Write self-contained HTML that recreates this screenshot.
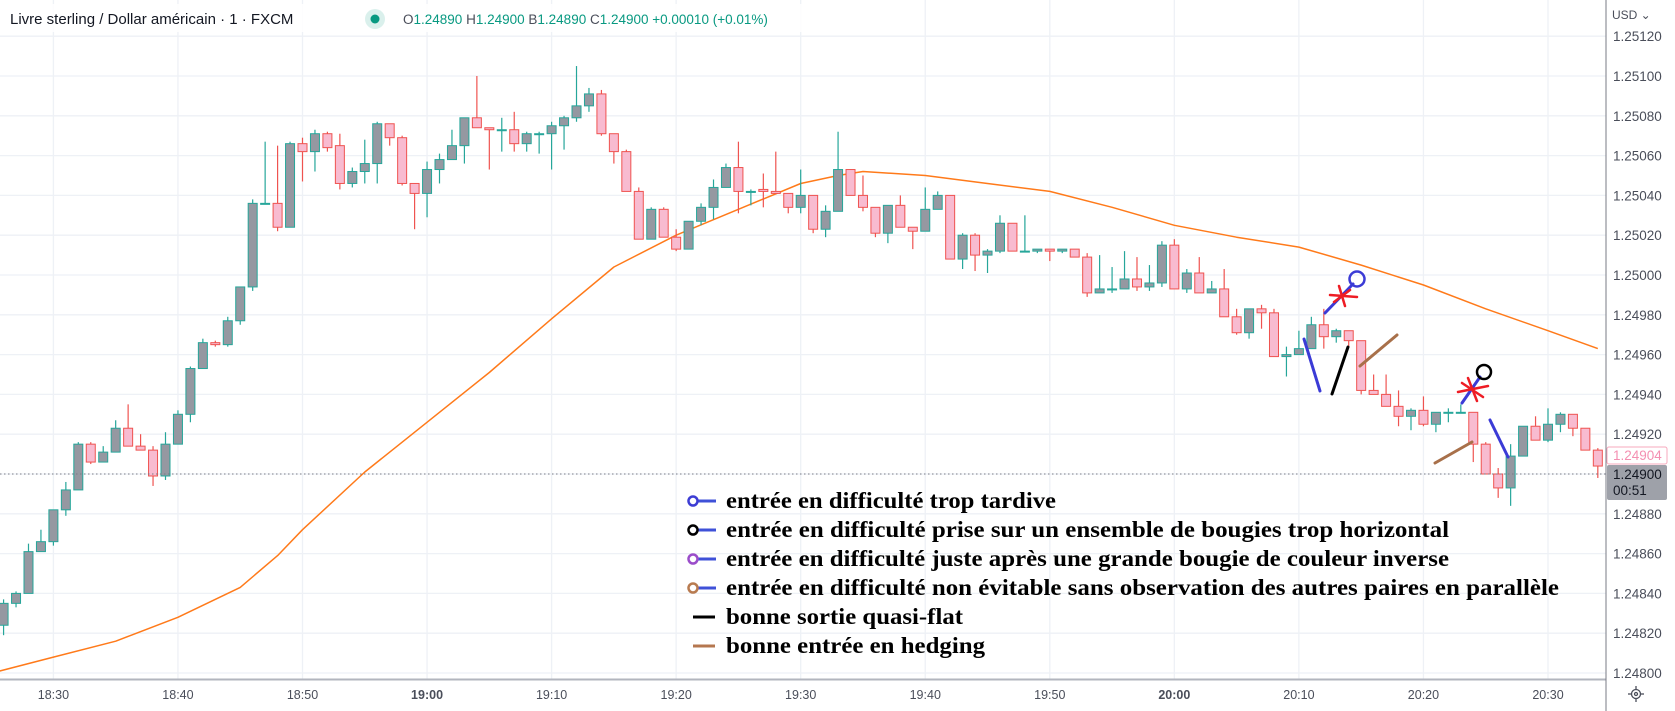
<!DOCTYPE html>
<html><head><meta charset="utf-8"><style>
html,body{margin:0;padding:0;background:#fff;}
svg{display:block;}
</style></head><body>
<svg id="chart" width="1675" height="711" xmlns="http://www.w3.org/2000/svg" font-family="Liberation Sans, sans-serif">
<rect x="0" y="0" width="1675" height="711" fill="#fff"/>
<g id="grid"></g>
<g id="ma"></g>
<g id="candles"></g>
<line x1="0" y1="474" x2="1606" y2="474" stroke="#787b86" stroke-width="1" stroke-dasharray="1.5,2.5"/>
<g stroke-linecap="round" fill="none">
 <line x1="1304" y1="339" x2="1320" y2="391" stroke="#3b3bd6" stroke-width="3"/>
 <line x1="1332" y1="394" x2="1348" y2="347" stroke="#000" stroke-width="3"/>
 <line x1="1325" y1="313" x2="1353" y2="284" stroke="#3b3bd6" stroke-width="3"/>
 <circle cx="1357" cy="279" r="7.5" stroke="#3b3bd6" stroke-width="2.5"/>
 <g stroke="#ee1c24" stroke-width="2.5">
  <line x1="1330" y1="295" x2="1357" y2="297"/><line x1="1339" y1="286" x2="1345" y2="306"/><line x1="1334" y1="302" x2="1350" y2="290"/>
 </g>
 <line x1="1360" y1="366" x2="1397" y2="335" stroke="#a8704a" stroke-width="3"/>
 <line x1="1462" y1="403" x2="1480" y2="377" stroke="#3b3bd6" stroke-width="3"/>
 <circle cx="1484" cy="372" r="7" stroke="#000" stroke-width="2.5"/>
 <g stroke="#ee1c24" stroke-width="2.5">
  <line x1="1458" y1="392" x2="1488" y2="386"/><line x1="1468" y1="378" x2="1477" y2="401"/><line x1="1462" y1="383" x2="1483" y2="397"/>
 </g>
 <line x1="1435" y1="463" x2="1472" y2="442" stroke="#a8704a" stroke-width="3"/>
 <line x1="1490" y1="420" x2="1508" y2="457" stroke="#3b3bd6" stroke-width="3"/>
</g>
<g font-family="Liberation Serif, serif" font-weight="bold" font-size="23" fill="#000">
 <g>
  <line x1="697" y1="501" x2="716" y2="501" stroke="#3f51d8" stroke-width="3"/><circle cx="693" cy="501" r="4.5" fill="#fff" stroke="#3d3dd4" stroke-width="2.5"/>
  <text x="726" y="508" textLength="330" lengthAdjust="spacingAndGlyphs">entrée en difficulté trop tardive</text></g>
 <g>
  <line x1="697" y1="530" x2="716" y2="530" stroke="#3f51d8" stroke-width="3"/><circle cx="693" cy="530" r="4.5" fill="#fff" stroke="#000" stroke-width="2.5"/>
  <text x="726" y="537" textLength="723" lengthAdjust="spacingAndGlyphs">entrée en difficulté prise sur un ensemble de bougies trop horizontal</text></g>
 <g>
  <line x1="697" y1="559" x2="716" y2="559" stroke="#3f51d8" stroke-width="3"/><circle cx="693" cy="559" r="4.5" fill="#fff" stroke="#9b4dca" stroke-width="2.5"/>
  <text x="726" y="566" textLength="723" lengthAdjust="spacingAndGlyphs">entrée en difficulté juste après une grande bougie de couleur inverse</text></g>
 <g>
  <line x1="697" y1="588" x2="716" y2="588" stroke="#3f51d8" stroke-width="3"/><circle cx="693" cy="588" r="4.5" fill="#fff" stroke="#b87b50" stroke-width="2.5"/>
  <text x="726" y="595" textLength="833" lengthAdjust="spacingAndGlyphs">entrée en difficulté non évitable sans observation des autres paires en parallèle</text></g>
 <g>
  <line x1="693" y1="617" x2="715" y2="617" stroke="#000" stroke-width="3"/>
  <text x="726" y="624" textLength="237" lengthAdjust="spacingAndGlyphs">bonne sortie quasi-flat</text></g>
 <g>
  <line x1="693" y1="646" x2="715" y2="646" stroke="#b5774f" stroke-width="3"/>
  <text x="726" y="653" textLength="259" lengthAdjust="spacingAndGlyphs">bonne entrée en hedging</text></g>
</g>
<rect x="1607" y="0" width="68" height="711" fill="#fff"/>
<rect x="0" y="680" width="1606" height="31" fill="#fff"/>
<line x1="0" y1="679.5" x2="1606" y2="679.5" stroke="#b2b5be" stroke-width="2"/>
<line x1="1606" y1="0" x2="1606" y2="711" stroke="#787b86" stroke-width="1"/>
<g id="xaxis" font-size="12.5" fill="#4a4e5a" text-anchor="middle"></g>
<g id="yaxis" font-size="13.5" fill="#4a4e5a"></g>
<text x="1612" y="19" font-size="12" fill="#4a4e5a">USD ⌄</text>
<g>
 <rect x="1607" y="447" width="60" height="17" fill="#fff" stroke="#f7a8bd" stroke-width="1" rx="2"/>
 <text x="1613" y="460" font-size="13.5" fill="#f48fb1">1.24904</text></g>
<g>
 <rect x="1607" y="465" width="60" height="35" fill="#9ea1a9" rx="2"/>
 <text x="1613" y="479" font-size="13.5" fill="#131722">1.24900</text>
 <text x="1613" y="495" font-size="13.5" fill="#131722">00:51</text></g>
<g stroke="#4a4e5a" fill="none" stroke-width="1.3">
 <circle cx="1636" cy="694" r="4.5"/><circle cx="1636" cy="694" r="1.5"/>
 <line x1="1636" y1="686" x2="1636" y2="689"/><line x1="1636" y1="699" x2="1636" y2="702"/>
 <line x1="1628" y1="694" x2="1631" y2="694"/><line x1="1641" y1="694" x2="1644" y2="694"/></g>
<g>
 <rect x="0" y="4" width="840" height="28" fill="#fff" opacity="0.85"/>
 <text x="10" y="24" font-size="15" fill="#131722">Livre sterling / Dollar américain · 1 · FXCM</text>
 <circle cx="375" cy="19" r="10" fill="#089981" opacity="0.15"/>
 <circle cx="375" cy="19" r="4.5" fill="#089981"/>
 <text x="403" y="24" font-size="13.5" fill="#089981"><tspan fill="#4a4e5a">O</tspan>1.24890 <tspan fill="#4a4e5a">H</tspan>1.24900 <tspan fill="#4a4e5a">B</tspan>1.24890 <tspan fill="#4a4e5a">C</tspan>1.24900 +0.00010 (+0.01%)</text>
</g>
</svg>
<script>
const firstMinute = 26;
const openP = [1.24824,1.24835,1.24840,1.24861,1.24866,1.24882,1.24892,1.24915,1.24906,1.24911,1.24923,1.24914,1.24912,1.24899,1.24915,1.24930,1.24953,1.24966,1.24965,1.24977,1.24994,1.25036,1.25036,1.25024,1.25066,1.25062,1.25071,1.25065,1.25046,1.25052,1.25056,1.25076,1.25069,1.25046,1.25041,1.25053,1.25058,1.25065,1.25079,1.25074,1.25073,1.25073,1.25066,1.25071,1.25071,1.25075,1.25079,1.25085,1.25091,1.25071,1.25062,1.25042,1.25018,1.25033,1.25019,1.25013,1.25027,1.25034,1.25044,1.25054,1.25042,1.25043,1.25042,1.25041,1.25034,1.25040,1.25023,1.25032,1.25053,1.25040,1.25034,1.25021,1.25035,1.25024,1.25022,1.25033,1.25040,1.25008,1.25020,1.25010,1.25012,1.25026,1.25012,1.25012,1.25013,1.25012,1.25013,1.25009,1.24991,1.24993,1.24993,1.24998,1.24994,1.24996,1.25015,1.24993,1.25001,1.24991,1.24993,1.24979,1.24971,1.24983,1.24981,1.24959,1.24960,1.24963,1.24975,1.24969,1.24972,1.24967,1.24942,1.24940,1.24934,1.24929,1.24932,1.24925,1.24931,1.24931,1.24931,1.24915,1.24900,1.24893,1.24909,1.24924,1.24917,1.24925,1.24930,1.24923,1.24912];
const highP = [1.24837,1.24841,1.24865,1.24872,1.24882,1.24896,1.24916,1.24916,1.24914,1.24927,1.24935,1.24920,1.24914,1.24921,1.24932,1.24954,1.24968,1.24967,1.24979,1.24994,1.25038,1.25067,1.25065,1.25067,1.25069,1.25073,1.25072,1.25071,1.25054,1.25068,1.25077,1.25076,1.25070,1.25046,1.25057,1.25061,1.25073,1.25079,1.25100,1.25074,1.25079,1.25082,1.25072,1.25072,1.25077,1.25080,1.25105,1.25094,1.25093,1.25071,1.25063,1.25044,1.25034,1.25034,1.25023,1.25027,1.25036,1.25048,1.25056,1.25067,1.25043,1.25051,1.25062,1.25041,1.25053,1.25040,1.25035,1.25072,1.25053,1.25050,1.25034,1.25035,1.25040,1.25024,1.25044,1.25042,1.25040,1.25021,1.25021,1.25013,1.25030,1.25026,1.25030,1.25013,1.25013,1.25013,1.25013,1.25011,1.25010,1.25004,1.25012,1.25009,1.25005,1.25017,1.25018,1.25003,1.25009,1.24997,1.25003,1.24983,1.24983,1.24985,1.24983,1.24964,1.24972,1.24979,1.24983,1.24973,1.24972,1.24967,1.24950,1.24950,1.24942,1.24933,1.24939,1.24931,1.24933,1.24935,1.24931,1.24916,1.24903,1.24915,1.24924,1.24929,1.24933,1.24931,1.24930,1.24923,1.24913];
const lowP = [1.24819,1.24833,1.24840,1.24861,1.24864,1.24879,1.24892,1.24905,1.24906,1.24911,1.24914,1.24912,1.24894,1.24897,1.24915,1.24926,1.24953,1.24964,1.24964,1.24975,1.24992,1.25036,1.25022,1.25024,1.25047,1.25052,1.25062,1.25043,1.25044,1.25046,1.25046,1.25065,1.25045,1.25023,1.25029,1.25046,1.25058,1.25056,1.25074,1.25053,1.25062,1.25062,1.25062,1.25061,1.25053,1.25063,1.25077,1.25082,1.25070,1.25056,1.25042,1.25018,1.25018,1.25019,1.25012,1.25013,1.25025,1.25028,1.25044,1.25031,1.25035,1.25034,1.25041,1.25031,1.25031,1.25021,1.25019,1.25032,1.25040,1.25032,1.25019,1.25016,1.25024,1.25013,1.25022,1.25033,1.25008,1.25003,1.25002,1.25001,1.25011,1.25012,1.25012,1.25011,1.25007,1.25011,1.25009,1.24989,1.24991,1.24991,1.24993,1.24992,1.24992,1.24994,1.24993,1.24991,1.24991,1.24991,1.24979,1.24970,1.24968,1.24973,1.24959,1.24949,1.24960,1.24963,1.24963,1.24966,1.24964,1.24940,1.24940,1.24934,1.24924,1.24922,1.24924,1.24921,1.24926,1.24931,1.24906,1.24900,1.24888,1.24884,1.24909,1.24917,1.24916,1.24921,1.24919,1.24912,1.24898];
const closeP = [1.24835,1.24840,1.24861,1.24866,1.24882,1.24892,1.24915,1.24906,1.24911,1.24923,1.24914,1.24912,1.24899,1.24915,1.24930,1.24953,1.24966,1.24965,1.24977,1.24994,1.25036,1.25036,1.25024,1.25066,1.25062,1.25071,1.25064,1.25046,1.25052,1.25056,1.25076,1.25069,1.25046,1.25041,1.25053,1.25058,1.25065,1.25079,1.25074,1.25073,1.25073,1.25066,1.25071,1.25071,1.25075,1.25079,1.25085,1.25091,1.25071,1.25062,1.25042,1.25018,1.25033,1.25019,1.25013,1.25027,1.25034,1.25044,1.25054,1.25042,1.25042,1.25042,1.25041,1.25034,1.25040,1.25023,1.25032,1.25053,1.25040,1.25034,1.25021,1.25035,1.25024,1.25022,1.25033,1.25040,1.25008,1.25020,1.25010,1.25012,1.25026,1.25012,1.25012,1.25013,1.25012,1.25013,1.25009,1.24991,1.24993,1.24993,1.24998,1.24994,1.24996,1.25015,1.24993,1.25001,1.24991,1.24993,1.24979,1.24971,1.24983,1.24981,1.24959,1.24960,1.24963,1.24975,1.24969,1.24972,1.24967,1.24942,1.24940,1.24934,1.24929,1.24932,1.24925,1.24931,1.24931,1.24931,1.24915,1.24900,1.24893,1.24909,1.24924,1.24917,1.24925,1.24930,1.24923,1.24912,1.24904];
const maMinutes = [25.7,30,35,40,45,48,50,55,60,65,70,75,80,85,90,93,95,100,105,110,115,120,125,130,135,140,145,150,154];
const maValues = [1.24801,1.24808,1.24816,1.24828,1.24843,1.24859,1.24872,1.24901,1.24926,1.24951,1.24978,1.25004,1.25020,1.25033,1.25046,1.25050,1.25052,1.25050,1.25046,1.25042,1.25034,1.25025,1.25019,1.25014,1.25005,1.24995,1.24983,1.24972,1.24963];
const timeLabels = ["18:30","18:40","18:50","19:00","19:10","19:20","19:30","19:40","19:50","20:00","20:10","20:20","20:30"];
const timeMinutes = [30,40,50,60,70,80,90,100,110,120,130,140,150];
const priceTicks = [1.25120,1.25100,1.25080,1.25060,1.25040,1.25020,1.25000,1.24980,1.24960,1.24940,1.24920,1.24900,1.24880,1.24860,1.24840,1.24820,1.24800];

const NS = "http://www.w3.org/2000/svg";
function xs(m){ return 53.4 + (m - 30) * 12.455; }
function ys(p){ return 474 - (p - 1.249) * 199000; }
function mk(tag, attrs, parent){ const e = document.createElementNS(NS, tag); for (const k in attrs) e.setAttribute(k, attrs[k]); parent.appendChild(e); return e; }

const grid = document.getElementById('grid');
priceTicks.forEach(p => {
  const l = mk('line', {x1:0, x2:1606, y1:ys(p), y2:ys(p), stroke:'#eef1f6', 'stroke-width':1.3}, grid);
  
  
});
timeMinutes.forEach(m => {
  const l = mk('line', {x1:xs(m), x2:xs(m), y1:0, y2:679, stroke:'#eef1f6', 'stroke-width':1.3}, grid);
  
  
});

const ma = document.getElementById('ma');
const pts = maMinutes.map((m, i) => xs(m).toFixed(1) + ',' + ys(maValues[i]).toFixed(1)).join(' ');
const maLine = mk('polyline', {points:pts, fill:'none', stroke:'#ff7a1a', 'stroke-width':1.5, 'stroke-linejoin':'round'}, ma);



const cg = document.getElementById('candles');
openP.forEach((o, i) => {
  const c = closeP[i], h = highP[i], l = lowP[i];
  const x = xs(firstMinute + i);
  const bull = c >= o;
  const stroke = bull ? '#26a69a' : '#ef5350';
  const fill = bull ? '#9598a1' : '#f8bbd0';
  const g = mk('g', {}, cg);
  
  
  mk('line', {x1:x, x2:x, y1:ys(h), y2:ys(l), stroke:stroke, 'stroke-width':1.2}, g);
  const top = ys(Math.max(o, c)), bot = ys(Math.min(o, c));
  const hgt = Math.max(bot - top, 1);
  mk('rect', {x:x - 4.5, y:top, width:9, height:hgt, fill:fill, stroke:stroke, 'stroke-width':1}, g);
});

const xa = document.getElementById('xaxis');
timeLabels.forEach((t, i) => {
  const tx = mk('text', {x:xs(timeMinutes[i]), y:699}, xa);
  if (t.endsWith(':00')) tx.setAttribute('font-weight', 'bold');
  tx.textContent = t;
  
  
});

const ya = document.getElementById('yaxis');
priceTicks.forEach(p => {
  if (Math.abs(p - 1.249) < 1e-7) return;
  const tx = mk('text', {x:1613, y:ys(p) + 5}, ya);
  tx.textContent = p.toFixed(5);
  
  
});
</script>
</body></html>
